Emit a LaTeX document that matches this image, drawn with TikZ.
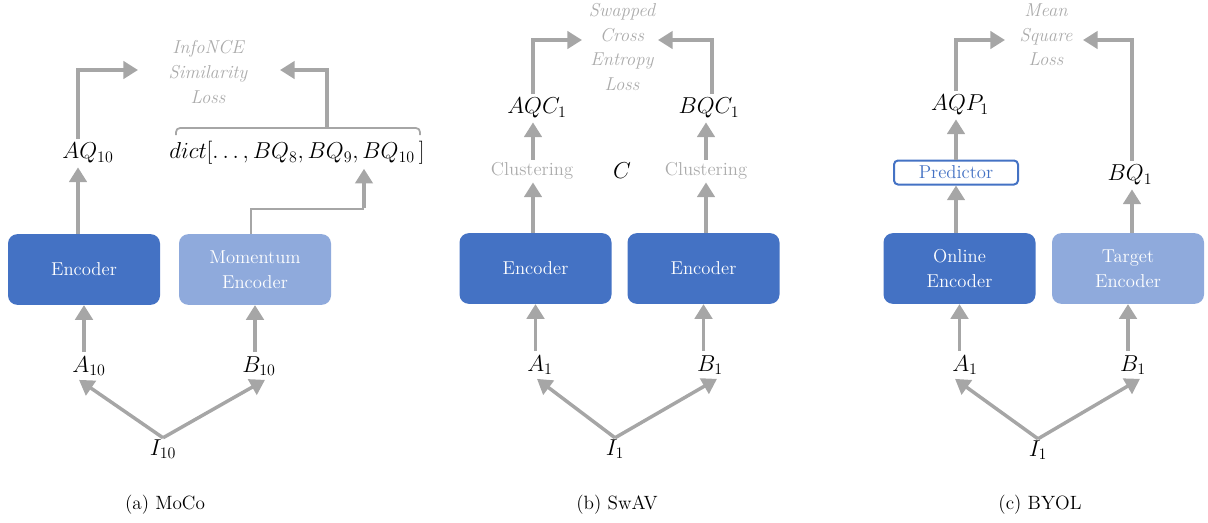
\documentclass[tikz,border=0pt]{standalone}
\usetikzlibrary{arrows.meta,calc}
\definecolor{encdark}{HTML}{4472C4}
\definecolor{enclight}{HTML}{8FAADC}
\definecolor{arrgray}{HTML}{A6A6A6}
\definecolor{txtgray}{HTML}{ABABAB}
\begin{document}
\begin{tikzpicture}[x=0.75pt,y=-0.75pt,
  encbox/.style={rounded corners=7pt, minimum width=114pt, minimum height=53pt, text=white,
    align=center, inner sep=0pt, font=\fontsize{14}{18.5}\selectfont},
  darkenc/.style={encbox, fill=encdark},
  lightenc/.style={encbox, fill=enclight},
  mathn/.style={inner sep=3pt, font=\fontsize{17}{20}\selectfont},
  losstext/.style={align=center, text=txtgray, font=\itshape\fontsize{14}{18.5}\selectfont},
  grayword/.style={text=txtgray, inner sep=2pt, font=\fontsize{14}{18}\selectfont},
  caption/.style={font=\fontsize{14.4}{18}\selectfont},
  arr/.style={draw=arrgray, line width=2.6pt, -{Triangle[length=11pt,width=13pt]}},
  thinline/.style={draw=arrgray, line width=1.3pt},
]
\useasboundingbox (0,0) rectangle (1208,522);

% ---------------- (a) MoCo ----------------
\node[darkenc] (encA) at (84,269.5) {Encoder};
\node[lightenc] (encB) at (255,269.5) {Momentum\\Encoder};
\node[mathn] (a10) at (89,366) {$A_{10}$};
\node[mathn] (b10) at (259,366) {$B_{10}$};
\node[mathn, inner sep=1pt] (i10) at (163,449) {$I_{10}$};
\node[mathn] (aq10) at (88,153) {$AQ_{10}$};
\node[mathn] (dict) at (297,153) {$dict[\ldots,BQ_8,BQ_9,BQ_{10}\,]$};
\node[losstext] (lossA) at (208,72) {InfoNCE\\Similarity\\Loss};
\node[caption] (capA) at (165,505) {(a) MoCo};

\coordinate (colA1) at (78,0);
\coordinate (colA3) at (364,0);
\coordinate (tipAL) at (138,70);
\coordinate (tipAR) at (280,70);
\coordinate (braceL) at (176,135);
\coordinate (braceR) at (420,135);
\coordinate (braceTop) at (327,128);
\coordinate (momCorner) at (364,209);

\draw[arr] (a10.north -| encA) -- (encA.south);
\draw[arr] (b10.north -| encB) -- (encB.south);
\draw[arr] (i10.north) -- ($(a10.south)+(-10,0)$);
\draw[arr] (i10.north) -- ($(b10.south)+(6,0)$);
\draw[arr] (colA1 |- encA.north) -- (colA1 |- aq10.south);
\draw[arr] (colA1 |- aq10.north) |- (tipAL);
\draw[thinline, rounded corners=3pt] (braceL) -- (braceL |- braceTop) -- (braceR |- braceTop) -- (braceR);
\draw[arr] (braceTop) |- (tipAR);
\draw[thinline] ($(encB.north)+(-4,0)$) |- (momCorner);
\draw[arr] ([yshift=0.6pt]momCorner) -- (colA3 |- dict.south);

% ---------------- (b) SwAV ----------------
\node[darkenc] (encL) at (535.5,268.5) {Encoder};
\node[darkenc] (encR) at (703.5,268.5) {Encoder};
\node[mathn] (a1b) at (540,365) {$A_1$};
\node[mathn] (b1b) at (710,365) {$B_1$};
\node[mathn, inner sep=1pt] (i1b) at (615,449) {$I_1$};
\node[grayword] (clL) at (532,171) {Clustering};
\node[mathn] (cC) at (622,171) {$C$};
\node[grayword] (clR) at (706,171) {Clustering};
\node[mathn] (aqc) at (537,108) {$AQC_1$};
\node[mathn] (bqc) at (709,108) {$BQC_1$};
\node[losstext] (lossB) at (622,47) {Swapped\\Cross\\Entropy\\Loss};
\node[caption] (capB) at (617,505) {(b) SwAV};

\coordinate (colB1) at (533,0);
\coordinate (colB2) at (706,0);
\coordinate (colB3) at (712,0);
\coordinate (tipBL) at (582,40);
\coordinate (tipBR) at (658,40);

\draw[arr] (a1b.north -| encL) -- (encL.south);
\draw[arr] (b1b.north -| encR) -- (encR.south);
\draw[arr] (i1b.north) -- ($(a1b.south)+(-3,0)$);
\draw[arr] (i1b.north) -- ($(b1b.south)+(7,0)$);
\draw[arr] (colB1 |- encL.north) -- (colB1 |- clL.south);
\draw[arr] (colB2 |- encR.north) -- (colB2 |- clR.south);
\draw[arr] (colB1 |- clL.north) -- (colB1 |- aqc.south);
\draw[arr] (colB2 |- clR.north) -- (colB2 |- bqc.south);
\draw[arr] (colB1 |- aqc.north) |- (tipBL);
\draw[arr] (colB3 |- bqc.north) |- (tipBR);

% ---------------- (c) BYOL ----------------
\node[darkenc] (encOn) at (959.5,268.5) {Online\\Encoder};
\node[lightenc] (encTg) at (1128,268.5) {Target\\Encoder};
\node[draw=encdark, line width=1.5pt, fill=white, rounded corners=3pt, minimum width=93pt,
      minimum height=18pt, inner sep=0pt, text=encdark, font=\fontsize{14}{18}\selectfont]
      (pred) at (956,172.5) {Predictor};
\node[mathn] (a1c) at (965,365) {$A_1$};
\node[mathn] (b1c) at (1133,365) {$B_1$};
\node[mathn, inner sep=1pt] (i1c) at (1038,450) {$I_1$};
\node[mathn] (aqp) at (960,105) {$AQP_1$};
\node[mathn] (bq1) at (1130,175) {$BQ_1$};
\node[losstext] (lossC) at (1046,35) {Mean\\Square\\Loss};
\node[caption] (capC) at (1040,505) {(c) BYOL};

\coordinate (colC1) at (956,0);
\coordinate (colC2) at (1132,0);
\coordinate (tipCL) at (1005,40);
\coordinate (tipCR) at (1083,40);

\draw[arr] (a1c.north -| encOn) -- (encOn.south);
\draw[arr] (b1c.north -| encTg) -- (encTg.south);
\draw[arr] (i1c.north) -- ($(a1c.south)+(-10,0)$);
\draw[arr] (i1c.north) -- ($(b1c.south)+(7,0)$);
\draw[arr] (colC1 |- encOn.north) -- (pred.south);
\draw[arr] (pred.north) -- (colC1 |- aqp.south);
\draw[arr] (colC2 |- encTg.north) -- (colC2 |- bq1.south);
\draw[arr] (colC1 |- aqp.north) |- (tipCL);
\draw[arr] (colC2 |- bq1.north) |- (tipCR);
\end{tikzpicture}
\end{document}
